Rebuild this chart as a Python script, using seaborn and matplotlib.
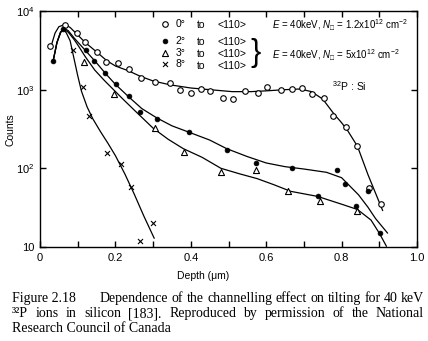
import matplotlib
matplotlib.use("Agg")
import matplotlib.pyplot as plt
import numpy as np
import pandas as pd
import seaborn as sns
from matplotlib.ticker import FixedLocator, FixedFormatter, NullLocator

# ---------------- data ----------------
# measured points
d0 = [0.027, 0.066, 0.098, 0.12, 0.151, 0.174, 0.206, 0.235, 0.268, 0.306, 0.344, 0.372,
      0.40, 0.426, 0.45, 0.485, 0.512, 0.543, 0.578, 0.601, 0.638, 0.669, 0.696, 0.721,
      0.752, 0.778, 0.811, 0.84, 0.873, 0.904]
c0 = [3620, 6640, 5210, 4070, 2990, 2230, 2160, 1830, 1400, 1260, 1220, 990,
      916, 1020, 970, 778, 762, 970, 900, 1090, 990, 1010, 1060, 875,
      778, 465, 339, 190, 57, 35]

d2 = [0.035, 0.062, 0.122, 0.144, 0.173, 0.202, 0.235, 0.266, 0.31, 0.394, 0.495, 0.572,
      0.669, 0.737, 0.787, 0.809, 0.838, 0.871, 0.902]
c2 = [2330, 5900, 3190, 2320, 1640, 1180, 832, 525, 424, 293, 171, 116,
      100, 44, 94, 63, 33, 51, 15]

d3 = [0.118, 0.195, 0.306, 0.383, 0.481, 0.574, 0.659, 0.743, 0.842]
c3 = [2270, 880, 324, 163, 91, 94, 52, 38, 28.8]

d8 = [0.087, 0.113, 0.131, 0.177, 0.215, 0.242, 0.264, 0.30]
c8 = [3190, 1070, 463, 156, 114, 58, 12, 20]

# hand-drawn curves
ld0 = [0.028, 0.04, 0.05, 0.066, 0.08, 0.097, 0.12, 0.15, 0.177, 0.20, 0.234, 0.266, 0.30,
       0.346, 0.40, 0.45, 0.51, 0.56, 0.60, 0.65, 0.69, 0.72, 0.75, 0.78, 0.80, 0.816,
       0.842, 0.87, 0.909]
lc0 = [3390, 5250, 6310, 6760, 6170, 5130, 3980, 3020, 2340, 2000, 1740, 1480, 1290,
       1150, 1050, 1000, 944, 944, 966, 1000, 1020, 944, 759, 490, 380, 302,
       191, 83, 29]

ld2 = [0.035, 0.045, 0.055, 0.064, 0.075, 0.09, 0.105, 0.122, 0.15, 0.175, 0.20, 0.235,
       0.27, 0.31, 0.35, 0.40, 0.45, 0.495, 0.55, 0.60, 0.65, 0.70, 0.76, 0.80, 0.845,
       0.87, 0.89, 0.922]
lc2 = [2340, 3980, 5370, 6030, 5620, 4570, 3800, 3090, 2190, 1580, 1170, 813,
       575, 437, 347, 282, 229, 178, 141, 117, 105, 98, 89, 76, 46,
       32, 23, 15]

ld3 = [0.035, 0.045, 0.055, 0.063, 0.075, 0.09, 0.10, 0.12, 0.145, 0.17, 0.195, 0.22,
       0.25, 0.30, 0.34, 0.38, 0.43, 0.48, 0.53, 0.576, 0.62, 0.665, 0.736, 0.80,
       0.842, 0.878, 0.90, 0.919]
lc3 = [2340, 3980, 5370, 5890, 5370, 4370, 3720, 2630, 1780, 1320, 1000, 759,
       550, 324, 234, 178, 138, 100, 85, 74, 62, 51, 44, 35,
       30, 22, 15, 10.2]

ld8 = [0.035, 0.045, 0.054, 0.062, 0.07, 0.08, 0.09, 0.10, 0.11, 0.125, 0.14, 0.16,
       0.18, 0.20, 0.225, 0.25, 0.275, 0.303]
lc8 = [2340, 3980, 5370, 5890, 5250, 4170, 2510, 1510, 955, 603, 427, 295,
       209, 145, 85, 47, 25, 12.9]

angle_labels = ["0°", "2°", "3°", "8°"]
x_ticks = [0, 0.2, 0.4, 0.6, 0.8, 1.0]
x_tick_labels = ["0", "0.2", "0.4", "0.6", "0.8", "1.0"]
y_ticks = [10, 100, 1000, 10000]
y_tick_labels = ["10", "10$^2$", "10$^3$", "10$^4$"]

caption_head = "Figure 2.18"
caption = [
    "Dependence of the channelling effect on tilting for 40 keV",
    "³²P ions in silicon [183]. Reproduced by permission of the National",
    "Research Council of Canada",
]

# ---------------- style ----------------
sns.set_theme(style="ticks")
plt.rcParams.update({
    "font.family": ["Liberation Sans", "DejaVu Sans"],
    "mathtext.fontset": "custom",
    "mathtext.rm": "Liberation Sans",
    "mathtext.it": "Liberation Sans:italic",
    "mathtext.bf": "Liberation Sans:bold",
    "mathtext.fallback": "stix",
    "axes.linewidth": 1.0,
    "axes.edgecolor": "black",
    "text.color": "black",
    "xtick.color": "black",
    "ytick.color": "black",
})

W, H = 428, 341
fig = plt.figure(figsize=(W / 100, H / 100), dpi=100)
fig.patch.set_facecolor("white")
L, R, T, B = 40, 417, 11, 247
ax = fig.add_axes([L / W, 1 - B / H, (R - L) / W, (B - T) / H])
ax.set_facecolor("white")


def fx(x):
    return x / W


def fy(y):
    return 1 - y / H


# curves
for dd, cc in [(ld0, lc0), (ld2, lc2), (ld3, lc3), (ld8, lc8)]:
    sns.lineplot(x=dd, y=cc, color="black", linewidth=0.9, sort=False,
                 estimator=None, legend=False, ax=ax)

# markers
sns.scatterplot(x=d0, y=c0, marker="o", s=16, color="black", facecolor="white",
                edgecolor="black", linewidth=0.8, ax=ax, zorder=5)
h0 = ax.collections[-1]
sns.scatterplot(x=d2, y=c2, marker="o", s=12, color="black", edgecolor="black",
                linewidth=0.5, ax=ax, zorder=5)
h2 = ax.collections[-1]
sns.scatterplot(x=d3, y=c3, marker="^", s=19, color="black", facecolor="white",
                edgecolor="black", linewidth=0.8, ax=ax, zorder=5)
h3 = ax.collections[-1]
sns.scatterplot(x=d8, y=c8, marker="x", s=13, color="black", linewidth=0.8, ax=ax, zorder=5)
h8 = ax.collections[-1]

ax.set_yscale("log")
ax.set_xlim(0, 1.0)
ax.set_ylim(10, 10000)
ax.xaxis.set_major_locator(FixedLocator(x_ticks))
ax.xaxis.set_major_formatter(FixedFormatter(x_tick_labels))
ax.xaxis.set_minor_locator(FixedLocator([0.1, 0.3, 0.5, 0.7, 0.9]))
ax.yaxis.set_major_locator(FixedLocator(y_ticks))
ax.yaxis.set_major_formatter(FixedFormatter(y_tick_labels))
ax.yaxis.set_minor_locator(NullLocator())
ax.tick_params(which="both", direction="in", top=True, right=True, length=4, width=1,
               labelsize=8, pad=4)
ax.set_xlabel("")
ax.set_ylabel("")
for s in ax.spines.values():
    s.set_visible(True)
    s.set_linewidth(1.0)

# legends
fs = 7.5
leg1 = ax.legend([h0], [angle_labels[0]], loc="upper left", frameon=False,
                 bbox_to_anchor=(fx(161), fy(19)), bbox_transform=fig.transFigure,
                 fontsize=fs, handlelength=0.8, handletextpad=0.6, borderpad=0,
                 borderaxespad=0)
ax.add_artist(leg1)
leg2 = ax.legend([h2, h3, h8], angle_labels[1:], loc="upper left", frameon=False,
                 bbox_to_anchor=(fx(161), fy(36)), bbox_transform=fig.transFigure,
                 fontsize=fs, handlelength=0.8, handletextpad=0.6, borderpad=0,
                 borderaxespad=0, labelspacing=0.15)

for yy in [25, 42, 54, 66]:
    fig.text(fx(197), fy(yy), "to", fontsize=fs, va="center", ha="left")
    fig.text(fx(218), fy(yy), "<110>", fontsize=fs, va="center", ha="left")

fig.text(fx(256), fy(53), "}", fontsize=22, va="center", ha="center",
         fontweight="light")
efs = 7
fig.text(fx(272), fy(25), "$E$ = 40keV, $N_{\u25a1}$ = 1.2x10$^{12}$ cm$^{-2}$",
         fontsize=efs, va="center", ha="left")
fig.text(fx(272), fy(55), "$E$ = 40keV, $N_{\u25a1}$ = 5x10$^{12}$ cm$^{-2}$",
         fontsize=efs, va="center", ha="left")
fig.text(fx(332), fy(86), "$^{32}$P : Si", fontsize=fs, va="center", ha="left")

fig.text(fx(10), fy(130), "Counts", fontsize=fs, rotation=90, va="center", ha="center")
fig.text(fx(177), fy(276), "Depth (\u03bcm)", fontsize=fs, va="center", ha="left")

# caption, justified
serif = "Liberation Serif"
cfs = 10
renderer = fig.canvas.get_renderer()
ys = [302, 317, 332]


def justify(line, yy, xa, xb):
    words = line.split(" ")
    arts = [fig.text(0, fy(yy), w, fontsize=cfs, family=serif, va="baseline",
                     ha="left") for w in words]
    widths = [a.get_window_extent(renderer).width for a in arts]
    gap = (xb - xa - sum(widths)) / (len(words) - 1)
    xc = xa
    for a, w in zip(arts, widths):
        a.set_x(fx(xc))
        xc += w + gap


fig.text(fx(12), fy(ys[0]), caption_head, fontsize=cfs, family=serif,
         va="baseline", ha="left")
justify(caption[0], ys[0], 100, 424)
justify(caption[1], ys[1], 12, 424)
fig.text(fx(12), fy(ys[2]), caption[2], fontsize=cfs, family=serif,
         va="baseline", ha="left")

fig.savefig("out.png", dpi=100, facecolor="white")
